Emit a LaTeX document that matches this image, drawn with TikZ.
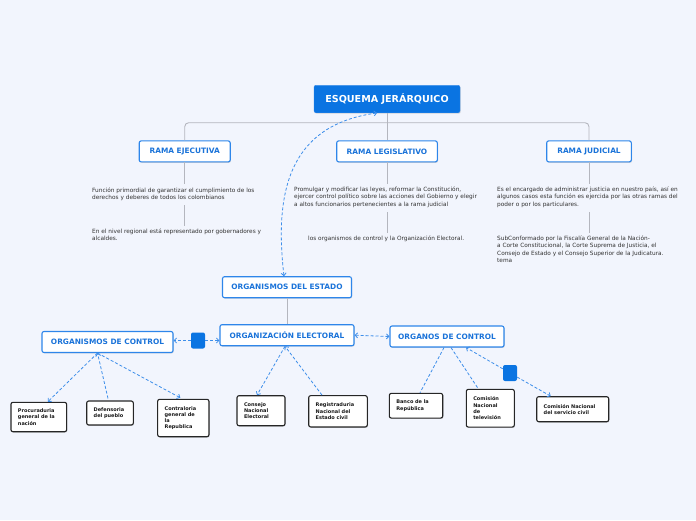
\documentclass[tikz,border=0pt]{standalone}
\usepackage{fontspec}
\setmainfont{DejaVu Sans}
\usetikzlibrary{arrows.meta,shadows}
\definecolor{bg}{HTML}{F2F5FD}
\definecolor{mblue}{HTML}{0A74E2}
\definecolor{bblue}{HTML}{2E86EA}
\definecolor{tblue}{HTML}{1A73D9}
\definecolor{dblue}{HTML}{3D8EEA}
\definecolor{lgray}{HTML}{B4B6BE}
\definecolor{txt}{HTML}{333333}
\begin{document}
\begin{tikzpicture}[x=1pt,y=-1pt,
  shad/.style={drop shadow={opacity=0.3,shadow xshift=0.7pt,shadow yshift=-0.9pt}},
  mainbox/.style={shad,fill=mblue,draw=bblue,rounded corners=2pt,text=white,
    font=\bfseries\fontsize{9.6}{11}\selectfont,minimum width=146pt,minimum height=27.5pt,inner sep=0pt},
  bbox/.style={shad,fill=white,draw=bblue,line width=1.1pt,rounded corners=2pt,text=tblue,
    font=\bfseries\fontsize{7.4}{9}\selectfont,minimum height=21pt,inner sep=0pt},
  leaf/.style={shad,fill=white,draw=black!85,line width=1.1pt,rounded corners=2pt,text=black!90,
    font=\bfseries\fontsize{5}{6.2}\selectfont,align=left,inner xsep=7pt,inner ysep=0pt},
  bsq/.style={fill=mblue,draw=none,rounded corners=2pt,minimum width=14pt,minimum height=16pt,inner sep=0pt},
  desc/.style={anchor=north west,inner sep=0pt,align=left,text=txt,font=\fontsize{5.8}{7.1}\selectfont},
  gline/.style={draw=lgray,line width=0.9pt},
  dline/.style={draw=dblue,line width=0.8pt,dash pattern=on 3pt off 2pt},
  tip/.tip={Straight Barb[length=2.5pt,width=5pt]}
]
\useasboundingbox[fill=bg] (0,0) rectangle (696,520);

% main and branches
\node[mainbox] (main) at (387,99) {ESQUEMA JERÁRQUICO};
\node[bbox,minimum width=91pt] (ejec) at (184.7,151.4) {RAMA EJECUTIVA};
\node[bbox,minimum width=100.6pt] (leg) at (387,151.4) {RAMA LEGISLATIVO};
\node[bbox,minimum width=84.6pt] (jud) at (589,151.4) {RAMA JUDICIAL};

\coordinate (j) at (387,122.7);
\draw[gline,rounded corners=4pt] (ejec.north) |- (j) -| (jud.north);
\draw[gline] (main.south) -- (leg.north);

% descriptions
\node[desc] (t1) at (92,188) {Función primordial de garantizar el cumplimiento de los\\derechos y deberes de todos los colombianos};
\node[desc] (t2) at (92,229) {En el nivel regional está representado por gobernadores y\\alcaldes.};
\node[desc] (t3) at (294,187) {Promulgar y modificar las leyes, reformar la Constitución,\\ejercer control político sobre las acciones del Gobierno y elegir\\a altos funcionarios pertenecientes a la rama judicial};
\node[desc] (t4) at (308,236) {los organismos de control y la Organización Electoral.};
\node[desc] (t5) at (497,187) {Es el encargado de administrar justicia en nuestro país, así en\\algunos casos esta función es ejercida por las otras ramas del\\poder o por los particulares.};
\node[desc] (t6) at (497,236) {SubConformado por la Fiscalía General de la Nación-\\a Corte Constitucional, la Corte Suprema de Justicia, el\\Consejo de Estado y el Consejo Superior de la Judicatura.\\tema};

\draw[gline] (ejec.south) -- ++(0,22);
\draw[gline] (ejec.south) ++(0,43) -- ++(0,21);
\draw[gline] (leg.south) -- ++(0,22);
\draw[gline] (leg.south) ++(0,50) -- ++(0,21);
\draw[gline] (jud.south) -- ++(0,22);
\draw[gline] (jud.south) ++(0,50) -- ++(0,21);

% organisms
\node[bbox,minimum width=129pt] (estado) at (287,287.2) {ORGANISMOS DEL ESTADO};
\node[bbox,minimum width=134pt] (elect) at (287,335.2) {ORGANIZACIÓN ELECTORAL};
\node[bbox,minimum width=131pt] (orgctrl) at (107.5,342) {ORGANISMOS DE CONTROL};
\node[bbox,minimum width=114pt] (organos) at (447,336.5) {ORGANOS DE CONTROL};
\node[bsq] (sq1) at (198,340.5) {};
\node[bsq] (sq2) at (510,373) {};

\draw[dline,tip-tip] ([xshift=-3pt]estado.north) .. controls (274,190) and (290,125) .. ([xshift=-10pt]main.south);
\draw[gline] (estado.south) -- (elect.north);
\draw[dline,-tip] (sq1.west) -- (sq1.west -| orgctrl.east);
\draw[dline,-tip] (sq1.east) -- (sq1.east -| elect.west);
\draw[dline,tip-tip] (elect.east) -- (organos.west);

% leaves
\node[leaf,text width=41.7pt,minimum height=29.4pt] (proc) at (38.8,417) {Procuraduria\\general de la\\nación};
\node[leaf,text width=32.6pt,minimum height=24pt] (def) at (110,413) {Defensoria\\del pueblo};
\node[leaf,text width=37.3pt,minimum height=37.4pt] (contra) at (183.3,418) {Contraloria\\general de\\la\\Republica};
\node[leaf,text width=34pt,minimum height=30pt] (consejo) at (261,410.7) {Consejo\\Nacional\\Electoral};
\node[leaf,text width=44.6pt,minimum height=31.3pt] (regis) at (338,411.3) {Registraduria\\Nacional del\\Estado civil};
\node[leaf,text width=39.4pt,minimum height=24.7pt] (banco) at (416,405.7) {Banco de la\\República};
\node[leaf,text width=34pt,minimum height=37.7pt] (comtv) at (490.3,408.2) {Comisión\\Nacional\\de\\televisión};
\node[leaf,text width=58pt,minimum height=25pt] (comsc) at (572.7,409.2) {Comisión Nacional\\del servicio civil};

\draw[dline,-tip] ([xshift=-10pt]orgctrl.south) -- ([xshift=9pt]proc.north);
\draw[dline,-tip] ([xshift=-2pt,yshift=2pt]def.north) -- ([xshift=-10pt]orgctrl.south);
\draw[dline,-tip] ([xshift=-10pt]orgctrl.south) -- ([xshift=-3pt,yshift=1pt]contra.north);
\draw[dline,-tip] ([xshift=-2pt]elect.south) -- ([xshift=-4pt]consejo.north);
\draw[dline,-tip] ([xshift=-16pt]regis.north) -- ([xshift=-2pt]elect.south);
\draw[dline] ([xshift=-3pt]organos.south) -- ([xshift=4pt]banco.north);
\draw[dline] ([xshift=4pt]organos.south) -- ([xshift=-12pt]comtv.north);
\draw[dline,-tip] (sq2) -- ([xshift=19pt]organos.south);
\draw[dline,-tip] (sq2) -- ([xshift=-22pt]comsc.north);
\end{tikzpicture}
\end{document}
